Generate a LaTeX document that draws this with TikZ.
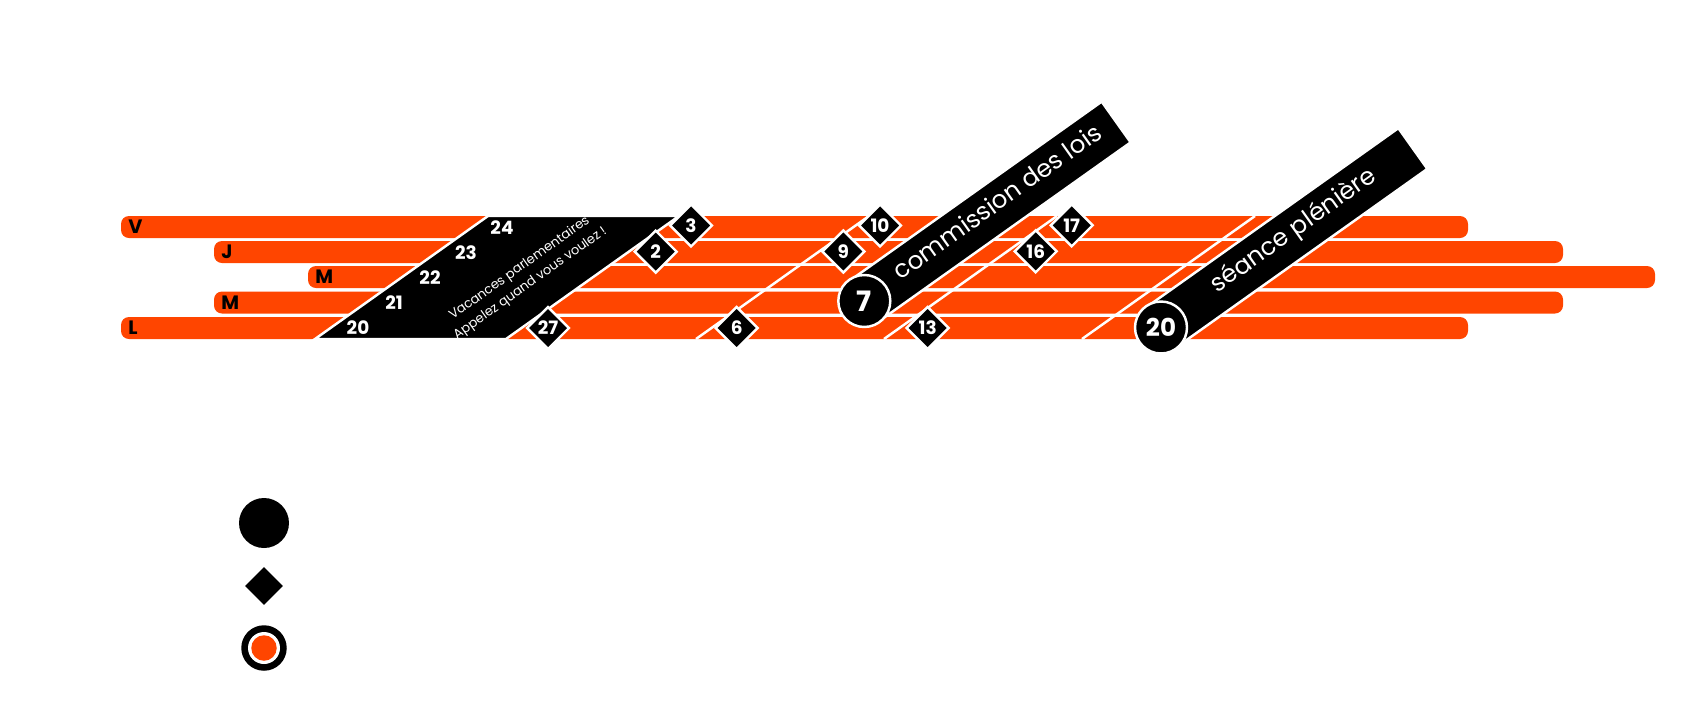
\documentclass[tikz,border=0pt]{standalone}
\usepackage{fontspec}
\setmainfont{Poppins}
\usetikzlibrary{shapes.geometric}

\begin{document}
\begin{tikzpicture}[x=0.02cm, y=-0.02cm]
  % Colors
  \definecolor{daycol}{RGB}{255,69,0}
  %
  \tikzset{
    sepline/.style={draw=white, line width=1.4pt},
    dayname/.style={anchor=west, inner sep=0pt, font=\fontsize{11}{12}\selectfont\bfseries},
    vacdate/.style={text=white, inner sep=0pt, font=\fontsize{10.5}{12}\selectfont\bfseries},
    datebox/.style={diamond, aspect=1, fill=black, draw=white, line width=1.4pt, inner sep=0pt,
                    minimum size=0.86cm, text=white, font=\fontsize{10.5}{12}\selectfont\bfseries},
    eventdot/.style={circle, fill=black, draw=white, line width=1.4pt, inner sep=0pt,
                     minimum size=1.04cm, text=white},
    band/.style={fill=black, draw=white, line width=1.4pt},
    bandtext/.style={text=white, anchor=mid, inner sep=0pt, transform shape,
                     font=\fontsize{14}{16}\selectfont},
  }
  %
  \useasboundingbox (0,0) rectangle (1696,724);
  %
  % === DAY BARS (L at the bottom, V at the top) ===
  \foreach \ty/\xa/\xb/\dn [count=\i] in {
    216/121/1468/V,
    241/214/1563/J,
    266/308/1655/M,
    291.5/214/1563/M,
    317/121/1468/L%
  } {
    \fill[daycol, rounded corners=0.16cm] (\xa,\ty) rectangle (\xb,{\ty+22});
    \node[dayname] (day\i) at ({\xa+7},{\ty+11}) {\dn};
  }
  %
  % === WEEK SEPARATORS ===
  \foreach \xk in {696,884,1082} {
    \draw[sepline] (\xk,339) -- ++(173,-123);
  }
  %
  % === HOLIDAY WEEK ===
  \draw[band] (315,339) -- (488,216) -- (679,216) -- (506,339) -- cycle;
  \foreach \d [count=\r from 0] in {20,...,24} {
    \node[vacdate] (vd\d) at ({358+36*\r},{328-25.2*\r}) {\d};
  }
  \node[text=white, rotate=35.4, align=center, inner sep=0pt,
        font=\fontsize{7.4}{10.6}\selectfont] (vactext) at (525,276)
        {Vacances parlementaires\\Appelez quand vous voulez !};
  %
  % === EVENT BANDS ===
  \begin{scope}[shift={(864.3,301)}, rotate=35.4]
    \draw[band] (0,-25) rectangle (309,25);
    \node[bandtext] (comtext) at (166,0) {commission des lois};
  \end{scope}
  \node[eventdot, font=\fontsize{16}{18}\selectfont\bfseries] (ev7) at (864.3,301) {7};
  %
  \begin{scope}[shift={(1161,327.5)}, rotate=35.4]
    \draw[band] (0,-25) rectangle (309,25);
    \node[bandtext] (seancetext) at (164,0) {séance plénière};
  \end{scope}
  \node[eventdot, font=\fontsize{14}{16}\selectfont\bfseries] (ev20) at (1161,327.5) {20};
  %
  % === DATES (diamonds) ===
  \foreach \d/\x/\y in {
    27/548/328, 2/655.7/251.7, 3/691/225.5,
    6/736.7/328, 9/843.3/251.5, 10/880/225.5,
    13/927.7/328, 16/1035.7/251.3, 17/1071.7/225.3%
  } {
    \node[datebox] (dt\d) at (\x,\y) {\d};
  }
  %
  % === LEGEND ===
  \node[circle, fill=black, inner sep=0pt, minimum size=1cm] (legevent) at (264,523) {};
  \node[diamond, aspect=1, fill=black, inner sep=0pt, minimum size=0.76cm] (legdate) at (264,586) {};
  \node[circle, fill=black, inner sep=0pt, minimum size=0.91cm] (legring) at (264,648) {};
  \node[circle, fill=white, inner sep=0pt, minimum size=0.64cm] (legringw) at (legring) {};
  \node[circle, fill=daycol, inner sep=0pt, minimum size=0.51cm] (legringo) at (legring) {};
\end{tikzpicture}
\end{document}
